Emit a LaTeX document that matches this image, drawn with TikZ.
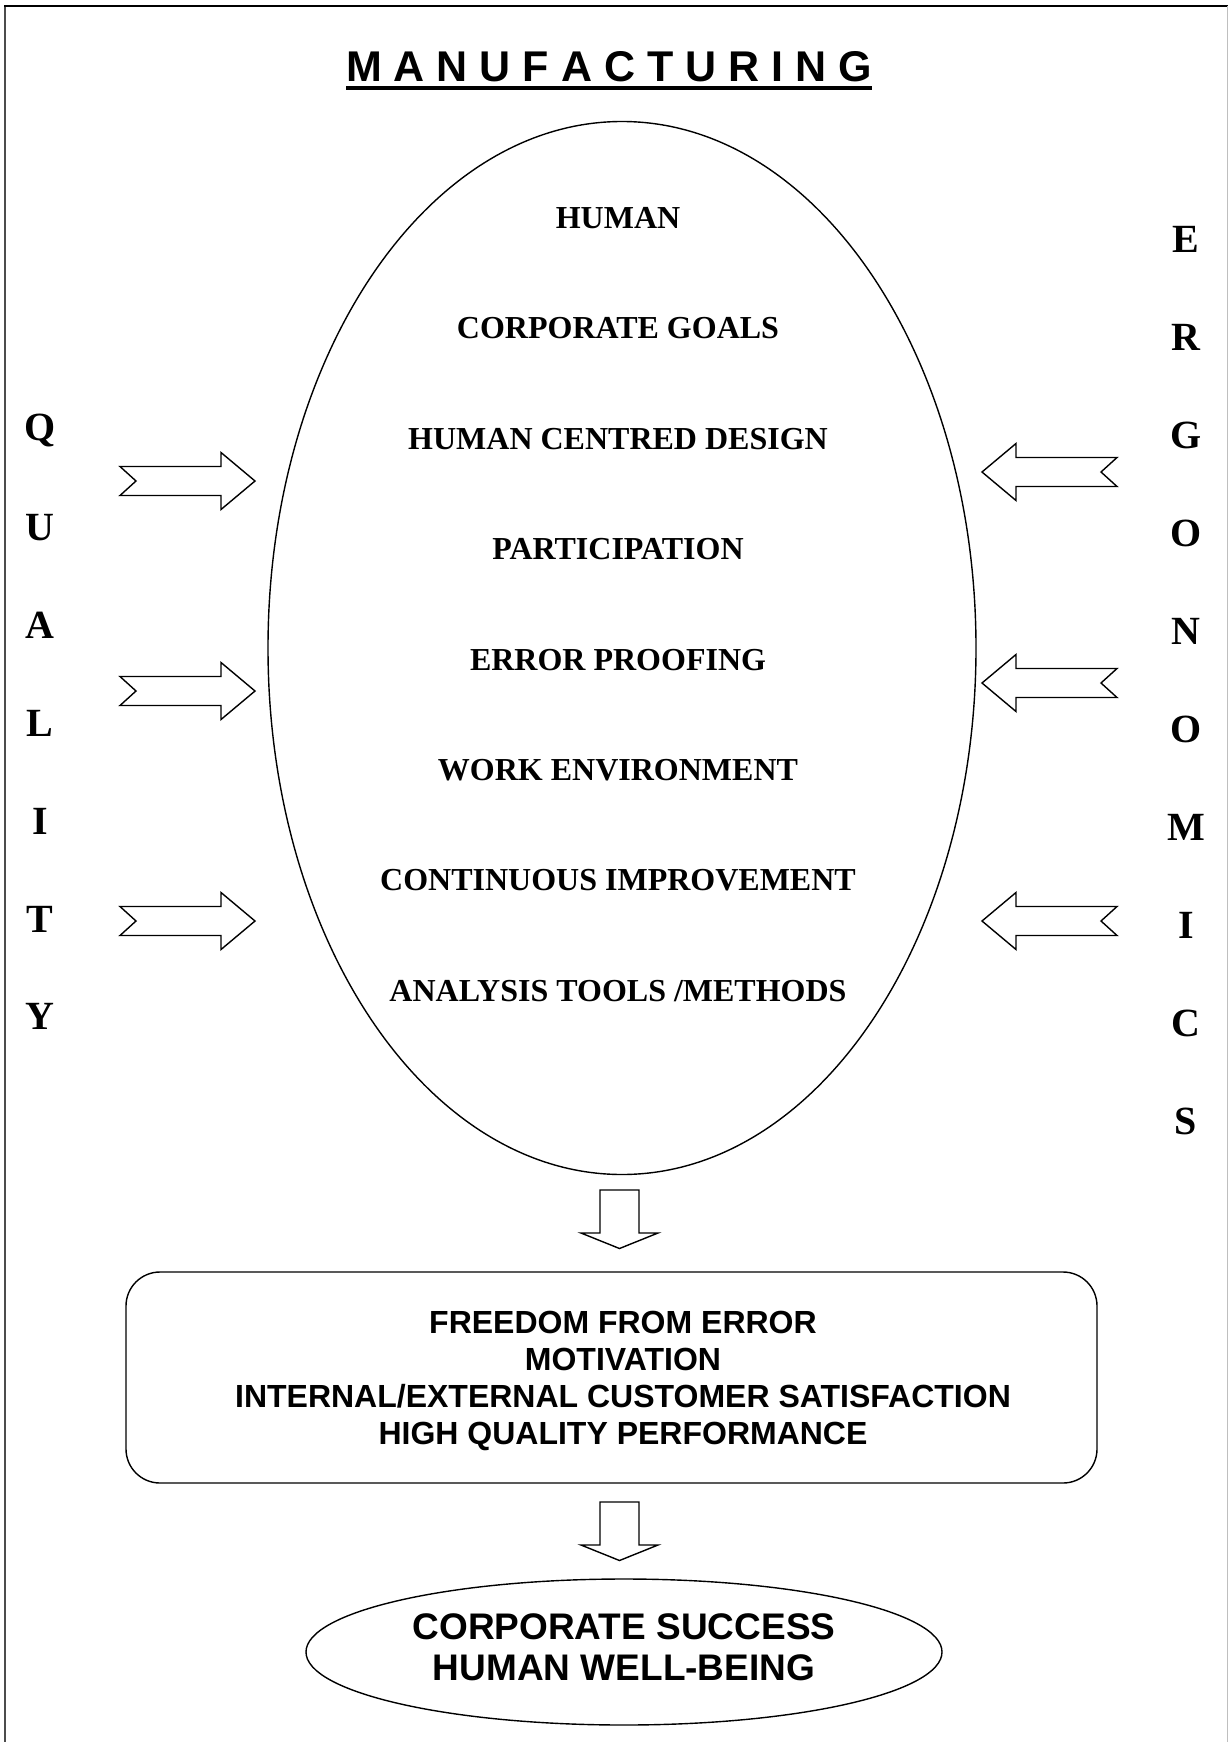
\documentclass[tikz,border=0pt]{standalone}
\usepackage{fontspec}
\setmainfont{Liberation Serif}
\setsansfont{Liberation Sans}
\usetikzlibrary{calc,shapes.geometric}
\begin{document}
\begin{tikzpicture}[x=1pt,y=-1pt,
  itemtext/.style={font=\fontsize{32}{38}\selectfont\bfseries},
  sideletter/.style={font=\fontsize{40}{48}\selectfont\bfseries},
  boxtext/.style={font=\fontsize{32}{37}\selectfont\sffamily\bfseries,align=center},
  goaltext/.style={font=\fontsize{37}{41}\selectfont\sffamily\bfseries,align=center},
  outline/.style={draw=black,line width=1.4pt,line join=miter},
  pics/blockarrow/.style={code={
    \draw[outline] (0,-14.5) -- (101,-14.5) -- (101,-28.5) -- (135,0)
      -- (101,28.5) -- (101,14.5) -- (0,14.5) -- (16,0) -- cycle;}},
  pics/downarrow/.style={code={
    \draw[outline] (-19.5,0) -- (19.5,0) -- (19.5,43) -- (38.5,43)
      -- (0,58.5) -- (-38.5,43) -- (-19.5,43) -- cycle;}}
]
\useasboundingbox (0,0) rectangle (1229,1742);

% page frame
\draw[black!70,line width=2pt] (5,1742) -- (5,6);
\draw[black,line width=1.5pt] (4,6) -- (1228,6);
\draw[black!25,line width=1pt] (1227.5,6) -- (1227.5,1742);

% heading
\node[font=\fontsize{43}{50}\selectfont\sffamily\bfseries,inner sep=0pt] (title) at (609,67) {M A N U F A C T U R I N G};
\draw[line width=4pt] ($(title.base west)+(0,6)$) -- ($(title.base east)+(0,6)$);

% central ellipse with its topics
\node[ellipse,outline,minimum width=708pt,minimum height=1053pt,inner sep=0pt] (core) at (622,648) {};
\foreach \t [count=\i from 0] in {HUMAN,CORPORATE GOALS,HUMAN CENTRED DESIGN,PARTICIPATION,ERROR PROOFING,WORK ENVIRONMENT,CONTINUOUS IMPROVEMENT,ANALYSIS TOOLS /METHODS}
  \node[itemtext,inner sep=0pt] (topic\i) at (618,218+110.4*\i) {\t};

% QUALITY down the left side
\foreach \l [count=\i from 0] in {Q,U,A,L,I,T,Y}
  \node[sideletter,inner sep=0pt] (q\i) at (40,430+97.8*\i) {\l};

% ERGONOMICS down the right side
\foreach \l [count=\i from 0] in {E,R,G,O,N,O,M,I,C,S}
  \node[sideletter,inner sep=0pt] (e\i) at (1186,239+98.1*\i) {\l};

% arrows pointing into the ellipse
\pic at (120,481) {blockarrow};
\pic at (120,691) {blockarrow};
\pic at (120,921) {blockarrow};
\pic[xscale=-1] at (1117,472) {blockarrow};
\pic[xscale=-1] at (1117,683) {blockarrow};
\pic[xscale=-1] at (1117,921) {blockarrow};

% outcomes box
\pic at (619.5,1190) {downarrow};
\node[draw,line width=1.4pt,rounded corners=34pt,minimum width=971pt,minimum height=211pt,inner sep=0pt] (outcome) at (611.5,1377.5) {};
\node[boxtext,inner sep=0pt] (outcometext) at (623,1381) {FREEDOM FROM ERROR\\MOTIVATION\\INTERNAL/EXTERNAL CUSTOMER SATISFACTION\\HIGH QUALITY PERFORMANCE};

% final goal
\pic at (619.5,1502) {downarrow};
\node[ellipse,outline,minimum width=636pt,minimum height=146pt,inner sep=0pt] (goal) at (624,1652) {};
\node[goaltext,inner sep=0pt] (goaltext) at (624,1647) {CORPORATE SUCCESS\\HUMAN WELL-BEING};
\end{tikzpicture}
\end{document}
